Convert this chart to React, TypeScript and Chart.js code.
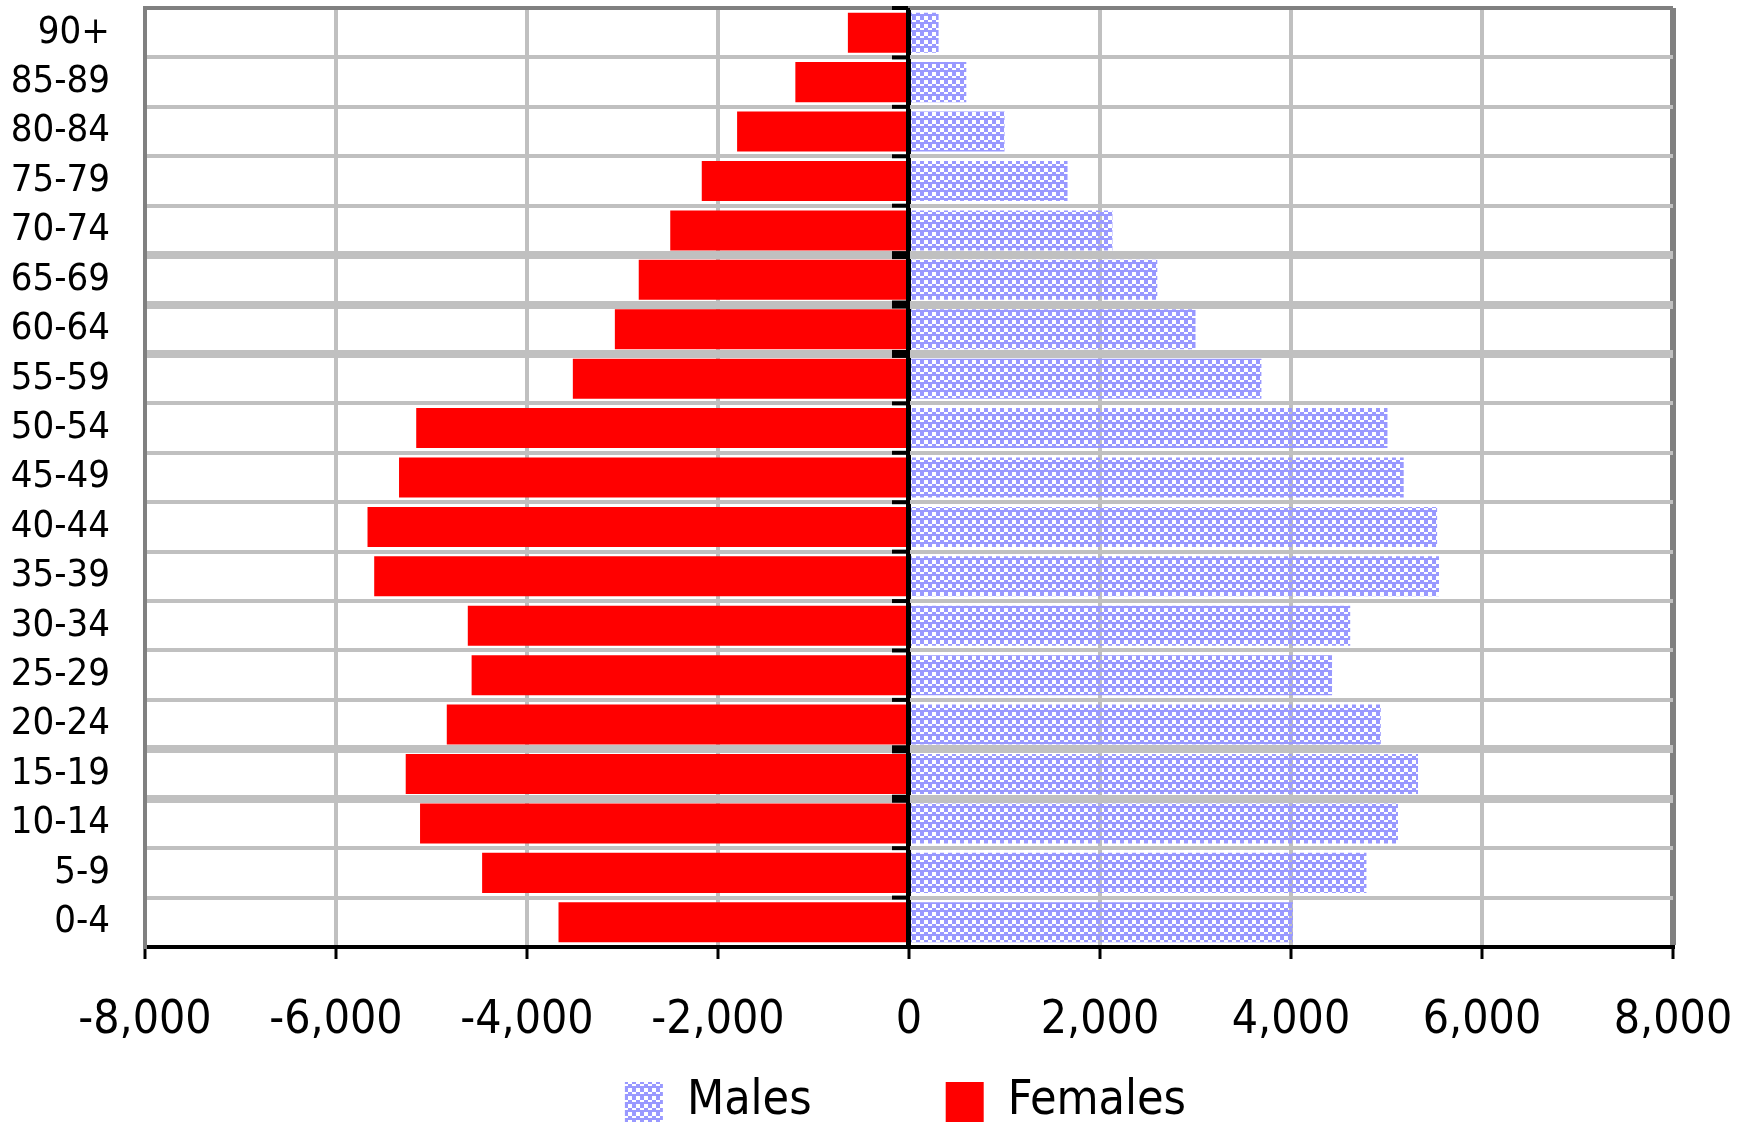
import React, { useEffect, useRef } from "react";
import { Chart, registerables } from "chart.js";

Chart.register(...registerables);

const ageGroups = ["90+", "85-89", "80-84", "75-79", "70-74", "65-69", "60-64", "55-59", "50-54", "45-49", "40-44", "35-39", "30-34", "25-29", "20-24", "15-19", "10-14", "5-9", "0-4"];
const malesValues = [310, 600, 1000, 1660, 2130, 2600, 3000, 3690, 5010, 5180, 5530, 5550, 4620, 4430, 4940, 5330, 5120, 4790, 4020];
const femalesValues = [-640, -1190, -1800, -2170, -2500, -2830, -3080, -3520, -5160, -5340, -5670, -5600, -4620, -4580, -4840, -5270, -5120, -4470, -3670];
const xTickValues = [-8000, -6000, -4000, -2000, 0, 2000, 4000, 6000, 8000];
const seriesNames = ["Males", "Females"];

const FONT = "'DejaVu Sans Condensed', 'Liberation Sans Narrow', 'Liberation Sans', Arial, sans-serif";
const thickRows = [5, 6, 7, 15, 16];
const LEGEND_PAD = 134;
const LEGEND_ITEMS_BELOW_AXIS = 131;
const LEGEND_SHIFT_X = 69;

function makePattern(): CanvasPattern | string {
  const c = document.createElement("canvas");
  c.width = 8;
  c.height = 8;
  const g = c.getContext("2d");
  if (!g) return "#bbbbff";
  g.fillStyle = "#9999ff";
  g.fillRect(0, 0, 4, 4);
  g.fillRect(4, 4, 4, 4);
  g.fillRect(0, 6, 8, 2);
  const p = g.createPattern(c, "repeat");
  return p || "#bbbbff";
}

const zeroLinePlugin = {
  id: "zeroLine",
  afterDatasetsDraw(chart: any) {
    const { ctx, chartArea, scales } = chart;
    const x0 = scales.x.getPixelForValue(0) - 1;
    ctx.save();
    ctx.strokeStyle = "#000000";
    ctx.lineWidth = 4;
    ctx.beginPath();
    ctx.moveTo(x0, chartArea.top);
    ctx.lineTo(x0, chartArea.bottom);
    ctx.stroke();
    const n = ageGroups.length;
    for (let i = 0; i <= n; i++) {
      const yb = scales.y.getPixelForValue(i - 0.5);
      ctx.lineWidth = thickRows.includes(i) ? 8 : 4;
      ctx.beginPath();
      ctx.moveTo(x0 - 16, yb);
      ctx.lineTo(x0, yb);
      ctx.stroke();
    }
    ctx.restore();
  },
};

const legendPlacePlugin = {
  id: "legendPlace",
  afterLayout(chart: any) {
    const lg = chart.legend;
    if (!lg) return;
    const top = chart.chartArea.bottom + LEGEND_ITEMS_BELOW_AXIS - LEGEND_PAD;
    lg.top = top;
    lg.bottom = chart.height;
    lg.height = lg.bottom - lg.top;
    lg.left += LEGEND_SHIFT_X;
    lg.right += LEGEND_SHIFT_X;
  },
};

export default function App() {
  const ref = useRef<HTMLCanvasElement | null>(null);

  useEffect(() => {
    if (!ref.current) return;
    const pattern = makePattern();
    const chart = new Chart(ref.current, {
      type: "bar",
      data: {
        labels: ageGroups,
        datasets: [
          {
            label: seriesNames[0],
            data: malesValues,
            backgroundColor: pattern as any,
            borderWidth: 0,
            barPercentage: 0.81,
            categoryPercentage: 1,
          },
          {
            label: seriesNames[1],
            data: femalesValues,
            backgroundColor: "#ff0000",
            borderWidth: 0,
            barPercentage: 0.81,
            categoryPercentage: 1,
          },
        ],
      },
      options: {
        indexAxis: "y",
        animation: false,
        responsive: true,
        maintainAspectRatio: false,
        devicePixelRatio: 1,
        layout: { padding: { top: 8, left: 0, right: 77, bottom: 0 } },
        plugins: {
          tooltip: { enabled: false },
          legend: {
            display: true,
            position: "bottom",
            maxHeight: 72,
            labels: {
              boxWidth: 38,
              boxHeight: 40,
              padding: LEGEND_PAD,
              color: "#000000",
              font: { family: FONT, size: 48 },
            },
          },
        },
        scales: {
          x: {
            stacked: true,
            min: xTickValues[0],
            max: xTickValues[xTickValues.length - 1],
            afterBuildTicks: (scale: any) => {
              scale.ticks = xTickValues.map((v) => ({ value: v }));
            },
            afterFit: (scale: any) => {
              scale.height = 110;
              scale.paddingLeft = 0;
              scale.paddingRight = 0;
            },
            ticks: {
              color: "#000000",
              padding: 34,
              maxRotation: 0,
              font: { family: FONT, size: 46 },
              callback: (v: any) => Number(v).toLocaleString("en-US"),
            },
            grid: {
              color: (ctx: any) => {
                const v = ctx.tick ? ctx.tick.value : null;
                if (v === 0) return "#000000";
                if (v === -8000 || v === 8000) return "#808080";
                return "#c0c0c0";
              },
              lineWidth: (ctx: any) => {
                const v = ctx.tick ? ctx.tick.value : null;
                if (v === 8000) return 6;
                return 4;
              },
              drawTicks: true,
              tickLength: 12,
              tickColor: "#000000",
              tickWidth: 3,
            },
            border: { display: true, color: "#000000", width: 4 },
          },
          y: {
            stacked: true,
            afterFit: (scale: any) => {
              scale.width = 145;
              scale.paddingTop = 0;
              scale.paddingBottom = 0;
            },
            ticks: {
              color: "#000000",
              padding: 35,
              labelOffset: 0,
              autoSkip: false,
              font: { family: FONT, size: 38 },
            },
            grid: {
              offset: true,
              drawTicks: false,
              color: (ctx: any) => (ctx.index === 0 ? "#808080" : "#c0c0c0"),
              lineWidth: (ctx: any) => (thickRows.includes(ctx.index) ? 8 : 4),
            },
            border: { display: true, color: "#808080", width: 4 },
          },
        },
      },
      plugins: [zeroLinePlugin, legendPlacePlugin],
    });
    return () => chart.destroy();
  }, []);

  return (
    <div style={{ position: "absolute", left: 0, top: 0, width: 1750, height: 1129, background: "#ffffff" }}>
      <canvas ref={ref} />
    </div>
  );
}
